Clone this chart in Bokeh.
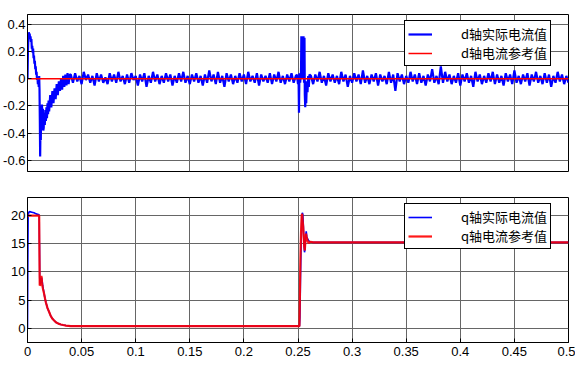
import numpy as np
from bokeh.plotting import figure
from bokeh.layouts import column
from bokeh.models import FixedTicker, Range1d, Legend, LegendItem
from bokeh.embed import file_html
from bokeh.resources import INLINE

# ---------------- tick definitions ----------------
x_ticks = [0, 0.05, 0.1, 0.15, 0.2, 0.25, 0.3, 0.35, 0.4, 0.45, 0.5]
x_tick_labels = ["0", "0.05", "0.1", "0.15", "0.2", "0.25", "0.3", "0.35", "0.4", "0.45", "0.5"]
d_ticks = [-0.6, -0.4, -0.2, 0, 0.2, 0.4]
d_tick_labels = ["-0.6", "-0.4", "-0.2", "0", "0.2", "0.4"]
q_ticks = [0, 5, 10, 15, 20]
q_tick_labels = ["0", "5", "10", "15", "20"]

# ---------------- d-axis actual current ----------------
d_start_t = [0.0, 0.0004, 0.0008, 0.0012, 0.0016, 0.0020, 0.0024, 0.0028, 0.0032, 0.0036,
             0.0040, 0.0044, 0.0048, 0.0052, 0.0056, 0.0060, 0.0064, 0.0068, 0.0072, 0.0076,
             0.0080, 0.0084, 0.0088, 0.0092, 0.0096, 0.0100, 0.0104, 0.0108, 0.0111, 0.0114,
             0.0117, 0.0120, 0.0123, 0.0126, 0.0130, 0.0134, 0.0138, 0.0142, 0.0146, 0.0150,
             0.0155, 0.0160, 0.0165, 0.0170, 0.0175, 0.0180, 0.0185, 0.0190, 0.0195, 0.0200,
             0.0210, 0.0220, 0.0230, 0.0240, 0.0250, 0.0260, 0.0270, 0.0280, 0.0290, 0.0300,
             0.0310, 0.0320, 0.0330, 0.0340, 0.0350, 0.0360, 0.0370, 0.0380, 0.0390]
d_start_v = [0.00, 0.20, 0.30, 0.34, 0.32, 0.33, 0.29, 0.31, 0.27, 0.29,
             0.22, 0.24, 0.19, 0.22, 0.15, 0.17, 0.11, 0.13, 0.07, 0.09,
             0.03, 0.05, -0.01, 0.01, -0.04, 0.00, -0.06, 0.02, -0.08, -0.30,
             -0.57, -0.35, -0.45, -0.20, -0.38, -0.19, -0.36, -0.22, -0.38, -0.36,
             -0.25, -0.34, -0.23, -0.31, -0.21, -0.29, -0.18, -0.26, -0.16, -0.24,
             -0.12, -0.21, -0.09, -0.18, -0.07, -0.15, -0.04, -0.12, -0.02, -0.09,
             0.00, -0.08, 0.02, -0.06, 0.03, -0.05, 0.04, -0.04, 0.03]

# steady part 0.040 .. 0.248 s, sampled every 2 ms
d_steady1_v = [0.03, -0.03, 0.04, -0.02, 0.02, -0.04, 0.05, -0.01, 0.03, -0.03,
               0.02, -0.05, 0.04, -0.02, 0.03, -0.03, 0.01, -0.04, 0.04, -0.02,
               0.03, -0.03, 0.05, -0.02, 0.02, -0.04, 0.03, -0.03, 0.04, -0.01,
               0.02, -0.05, 0.03, -0.02, 0.04, -0.06, 0.02, -0.03, 0.05, -0.02,
               0.03, -0.04, 0.02, -0.03, 0.04, -0.02, 0.03, -0.05, 0.02, -0.03,
               0.04, -0.02, 0.05, -0.03, 0.02, -0.04, 0.03, -0.02, 0.04, -0.03,
               0.02, -0.05, 0.03, -0.03, 0.06, -0.02, 0.03, -0.04, 0.05, -0.03,
               0.02, -0.06, 0.04, -0.02, 0.03, -0.04, 0.02, -0.03, 0.04, -0.02,
               0.03, -0.04, 0.05, -0.02, 0.02, -0.03, 0.04, -0.05, 0.03, -0.02,
               0.02, -0.03, 0.04, -0.04, 0.03, -0.02, 0.05, -0.03, 0.02, -0.04,
               0.03, -0.02, 0.04, -0.03, 0.02]

# load step disturbance near 0.25 s
d_step_t = [0.2490, 0.2500, 0.2505, 0.2509, 0.2513, 0.2520, 0.2528, 0.2531, 0.2536, 0.2541,
            0.2546, 0.2551, 0.2556, 0.2560, 0.2563, 0.2567, 0.2571, 0.2576, 0.2582, 0.2588,
            0.2594, 0.2600, 0.2606]
d_step_v = [0.03, -0.04, 0.02, -0.25, 0.04, -0.03, 0.05, 0.31, 0.00, 0.30,
            0.02, 0.31, -0.03, 0.30, -0.12, -0.21, -0.08, -0.18, -0.02, -0.10,
            0.02, -0.06, 0.03]

# steady part 0.262 .. 0.500 s, sampled every 2 ms
d_steady2_v = [0.02, -0.04, 0.03, -0.02, 0.05, -0.03, 0.02, -0.05, 0.04, -0.02,
               0.03, -0.03, 0.02, -0.04, 0.05, -0.02, 0.03, -0.06, 0.02, -0.03,
               0.04, -0.02, 0.03, -0.04, 0.06, -0.03, 0.02, -0.04, 0.03, -0.02,
               0.04, -0.05, 0.03, -0.02, 0.02, -0.04, 0.05, -0.03, 0.03, -0.09,
               0.04, -0.02, 0.03, -0.04, 0.02, -0.03, 0.05, -0.02, 0.03, -0.04,
               0.04, -0.03, 0.02, -0.05, 0.03, -0.02, 0.07, -0.03, 0.02, -0.04,
               0.09, -0.03, 0.05, -0.02, 0.03, -0.04, 0.02, -0.03, 0.04, -0.05,
               0.03, -0.02, 0.04, -0.03, 0.02, -0.06, 0.05, -0.02, 0.03, -0.04,
               0.02, -0.03, 0.04, -0.02, 0.05, -0.04, 0.03, -0.03, 0.02, -0.05,
               0.04, -0.02, 0.03, -0.04, 0.06, -0.03, 0.02, -0.04, 0.03, -0.02,
               0.04, -0.05, 0.03, -0.02, 0.05, -0.03, 0.02, -0.04, 0.04, -0.03,
               0.03, -0.06, 0.02, -0.03, 0.05, -0.02, 0.03, -0.04, 0.02, -0.03]

# d-axis reference
d_ref_t = [0.0, 0.5]
d_ref_v = [0.0, 0.0]

# ---------------- q-axis ----------------
q_ref_t = [0.0, 0.0108, 0.0110, 0.0113, 0.0118, 0.0124, 0.0128, 0.0131, 0.0134, 0.0138,
           0.0143, 0.0148, 0.0154, 0.0162, 0.0170, 0.0185, 0.0200, 0.0215, 0.0231, 0.0246,
           0.0262, 0.0285, 0.0308, 0.0330, 0.0355, 0.0400, 0.2513, 0.2517, 0.2522, 0.2528,
           0.2534, 0.2538, 0.2543, 0.2548, 0.2553, 0.2558, 0.2563, 0.2568, 0.2574, 0.2580,
           0.2590, 0.2600, 0.2615, 0.2640, 0.5000]
q_ref_v = [20.0, 20.0, 14.0, 7.6, 7.7, 8.2, 9.3, 9.0, 8.2, 7.5,
           7.0, 6.6, 6.1, 5.3, 4.6, 3.6, 2.9, 2.2, 1.7, 1.4,
           1.1, 0.85, 0.7, 0.6, 0.5, 0.4, 0.4, 5.0, 12.0, 17.0,
           20.0, 20.3, 19.0, 18.0, 16.0, 14.5, 13.8, 15.5, 16.8, 16.2,
           15.4, 15.1, 15.35, 15.25, 15.25]

q_act_t = [0.0, 0.0003, 0.0006, 0.0012, 0.0020, 0.0040, 0.0060, 0.0080, 0.0100, 0.0108,
           0.0110, 0.0111, 0.0113, 0.0116, 0.0120, 0.0125, 0.0130, 0.0135, 0.0140, 0.0148,
           0.0154, 0.0162, 0.0170, 0.0185, 0.0200, 0.0215, 0.0231, 0.0246, 0.0262, 0.0285,
           0.0308, 0.0330, 0.0355, 0.0400, 0.2514, 0.2518, 0.2523, 0.2529, 0.2535, 0.2540,
           0.2545, 0.2550, 0.2555, 0.2560, 0.2565, 0.2570, 0.2576, 0.2582, 0.2590, 0.2600,
           0.2615, 0.2640, 0.5000]
q_act_v = [0.0, 12.0, 20.0, 20.6, 20.7, 20.6, 20.5, 20.3, 20.2, 20.1,
           15.0, 15.0, 9.0, 7.8, 8.0, 8.6, 9.0, 8.5, 7.6, 6.8,
           6.1, 5.3, 4.6, 3.6, 2.9, 2.2, 1.7, 1.4, 1.1, 0.85,
           0.7, 0.6, 0.5, 0.4, 0.4, 2.0, 9.0, 15.0, 19.5, 20.5,
           20.2, 18.0, 15.0, 13.5, 14.0, 16.2, 17.2, 16.2, 15.8, 15.5,
           15.3, 15.25, 15.25]

legend_d = ["d轴实际电流值", "d轴电流参考值"]
legend_q = ["q轴实际电流值", "q轴电流参考值"]

# assemble the d signal on its sampling grid
d_time = np.concatenate([
    np.array(d_start_t),
    np.linspace(0.040, 0.248, len(d_steady1_v)),
    np.array(d_step_t),
    np.linspace(0.262, 0.500, len(d_steady2_v)),
])
d_actual = np.concatenate([d_start_v, d_steady1_v, d_step_v, d_steady2_v])

TICK_FONT = "Liberation Sans"
CJK_FONT = "Noto Sans CJK SC"


def make_fig(y_lo, y_hi, frame_h, top, bottom, yt, ylabels, show_x):
    p = figure(frame_width=541, frame_height=frame_h,
               x_range=Range1d(0, 0.5), y_range=Range1d(y_lo, y_hi),
               output_backend="svg", toolbar_location=None,
               min_border_left=25, min_border_right=9,
               min_border_top=top, min_border_bottom=bottom,
               background_fill_color="white", border_fill_color="white")
    p.outline_line_color = "black"
    p.outline_line_width = 1
    p.outline_line_alpha = 1
    xt = FixedTicker(ticks=x_ticks)
    ytk = FixedTicker(ticks=yt)
    p.xaxis.ticker = xt
    p.yaxis.ticker = ytk
    p.xgrid.ticker = xt
    p.ygrid.ticker = ytk
    for g in (p.xgrid, p.ygrid):
        g.grid_line_color = "#666666"
        g.grid_line_width = 1
        g.grid_line_alpha = 1
    p.yaxis.major_label_overrides = {t: l for t, l in zip(yt, ylabels)}
    p.xaxis.major_label_overrides = {t: l for t, l in zip(x_ticks, x_tick_labels)}
    for ax in (p.xaxis, p.yaxis):
        ax.major_tick_in = 4
        ax.major_tick_out = 0
        ax.minor_tick_in = 0
        ax.minor_tick_out = 0
        ax.axis_line_color = "black"
        ax.major_tick_line_color = "black"
        ax.major_label_text_font = TICK_FONT
        ax.major_label_text_font_size = "13px"
        ax.major_label_text_color = "black"
    p.yaxis.major_label_standoff = 2
    p.xaxis.major_label_standoff = 4
    p.xaxis.visible = show_x
    return p


def add_legend(p, r_act, r_ref, labels, y_pos):
    leg = Legend(items=[LegendItem(label=labels[0], renderers=[r_act]),
                        LegendItem(label=labels[1], renderers=[r_ref])],
                 location=(377, y_pos))
    leg.label_text_font = CJK_FONT
    leg.label_text_font_size = "13px"
    leg.label_text_color = "black"
    leg.border_line_color = "black"
    leg.border_line_width = 1
    leg.border_line_alpha = 1
    leg.background_fill_color = "white"
    leg.background_fill_alpha = 1
    leg.glyph_width = 24
    leg.glyph_height = 16
    leg.label_height = 16
    leg.label_standoff = 29
    leg.padding = 3
    leg.spacing = 0
    leg.margin = 0
    p.add_layout(leg)


# ---------------- top plot: d axis ----------------
p1 = make_fig(-0.68, 0.47, 157, 14, 13, d_ticks, d_tick_labels, False)
r1 = p1.line(d_time, d_actual, line_color="#0000FF", line_width=2.2)
r2 = p1.line(d_ref_t, d_ref_v, line_color="#FF0000", line_width=1.5)
add_legend(p1, r1, r2, legend_d, 105)

# ---------------- bottom plot: q axis ----------------
p2 = make_fig(-2.5, 23.2, 145, 13, 0, q_ticks, q_tick_labels, True)
r3 = p2.line(q_act_t, q_act_v, line_color="#0000FF", line_width=1.6)
r4 = p2.line(q_ref_t, q_ref_v, line_color="#FF0000", line_width=2.2, line_alpha=0.9)
add_legend(p2, r3, r4, legend_q, 93)

layout = column(p1, p2, spacing=0)

open("out.html", "w").write(file_html(layout, INLINE))
